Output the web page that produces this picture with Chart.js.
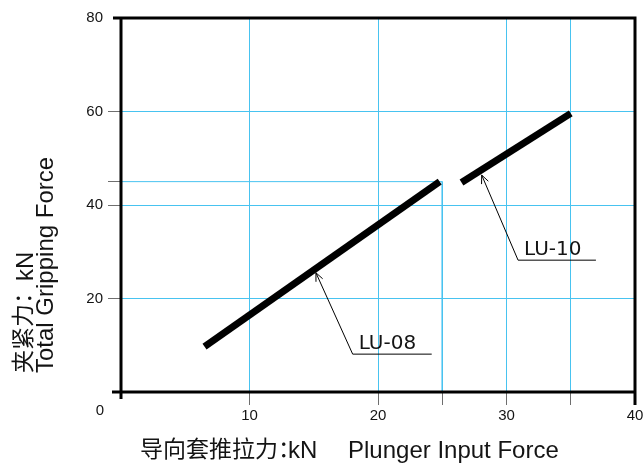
<!DOCTYPE html>
<html>
<head>
<meta charset="utf-8">
<script src="https://cdn.jsdelivr.net/npm/chart.js@4/dist/chart.umd.min.js"></script>
<style>
  html, body { margin: 0; padding: 0; background: #fff; }
  #wrap { width: 643px; height: 463px; }
</style>
</head>
<body>
<div id="wrap"><canvas id="c" width="643" height="463"></canvas></div>
<script>
// Plunger input force (kN) against total gripping force (kN)
const lu08Force = [6.5, 24.8];
const lu08Grip  = [9.7, 45.0];
const lu10Force = [26.5, 35.0];
const lu10Grip  = [44.8, 59.6];

// Guide lines marking the 25 kN / 45 kN reference point
const guideForce = [0, 25, 25];
const guideGrip  = [45, 45, 0];

// Axis ticks and their printed labels
const xTickValues = [0, 10, 20, 25, 30, 35, 40];
const xTickLabels = ['', '10', '20', '', '30', '', '40'];
const yTickValues = [0, 20, 40, 45, 60, 80];
const yTickLabels = ['', '20', '40', '', '60', '80'];

// Leader callouts: series name, pointed spot on the line, elbow, end of underline
const calloutNames = ['LU-08', 'LU-10'];
const calloutTips  = [[15.17, 25.5], [28.07, 46.4]];
const calloutElbows = [[18.03, 8.1], [30.9, 28.2]];
const calloutEnds  = [[24.18, 8.1], [36.96, 28.2]];

const toPoints = (xs, ys) => xs.map((x, i) => ({ x, y: ys[i] }));

const GRID = 'rgb(72,195,240)';
const TICK = 'rgb(110,110,110)';
const INK = '#141414';
const LATIN = '"Liberation Sans", Arial, sans-serif';
const CJK = '"Noto Sans CJK SC", sans-serif';

const frame = {
  id: 'frame',
  afterDatasetsDraw(chart) {
    const { ctx, chartArea: a, scales } = chart;
    const sx = scales.x, sy = scales.y;
    ctx.save();

    // heavy frame, with the axes crossing at the origin
    ctx.strokeStyle = '#000';
    ctx.lineWidth = 3;
    ctx.lineCap = 'butt';
    ctx.beginPath();
    ctx.moveTo(a.left, a.top - 1.5); ctx.lineTo(a.left, a.bottom + 7);
    ctx.moveTo(a.left - 9, a.bottom); ctx.lineTo(a.right + 1.5, a.bottom);
    ctx.moveTo(a.left - 8, a.top); ctx.lineTo(a.right + 1.5, a.top);
    ctx.moveTo(a.right, a.top - 1.5); ctx.lineTo(a.right, a.bottom + 13);
    ctx.stroke();

    // shared origin label
    ctx.fillStyle = INK;
    ctx.font = '15px ' + LATIN;
    ctx.textAlign = 'right';
    ctx.textBaseline = 'middle';
    ctx.fillText('0', a.left - 17, a.bottom + 19);

    // callouts
    ctx.lineWidth = 1;
    ctx.strokeStyle = '#000';
    calloutNames.forEach((name, i) => {
      const tx = sx.getPixelForValue(calloutTips[i][0]);
      const ty = sy.getPixelForValue(calloutTips[i][1]);
      const ex = sx.getPixelForValue(calloutElbows[i][0]);
      const ey = sy.getPixelForValue(calloutElbows[i][1]);
      const fx = sx.getPixelForValue(calloutEnds[i][0]);
      ctx.beginPath();
      ctx.moveTo(tx, ty); ctx.lineTo(ex, ey); ctx.lineTo(fx, ey);
      ctx.stroke();
      const ang = Math.atan2(ey - ty, ex - tx);
      const len = 9, spread = 0.42;
      ctx.beginPath();
      ctx.moveTo(tx + len * Math.cos(ang - spread), ty + len * Math.sin(ang - spread));
      ctx.lineTo(tx, ty);
      ctx.lineTo(tx + len * Math.cos(ang + spread), ty + len * Math.sin(ang + spread));
      ctx.stroke();
      ctx.font = '20px "DejaVu Sans", sans-serif';
      ctx.textAlign = 'left';
      ctx.textBaseline = 'alphabetic';
      ctx.fillStyle = INK;
      ctx.fillText(name, ex + 6, ey - 5);
    });

    // x axis title
    ctx.textAlign = 'left';
    ctx.textBaseline = 'alphabetic';
    ctx.font = '23px ' + CJK;
    ctx.fillText('导向套推拉力：', 140, 457);
    ctx.font = '24px ' + LATIN;
    ctx.fillText('kN', 288, 458);
    ctx.fillText('Plunger Input Force', 348, 458);

    // y axis title, two rotated lines
    ctx.save();
    ctx.translate(31, 373);
    ctx.rotate(-Math.PI / 2);
    ctx.font = '23px ' + CJK;
    ctx.fillText('夹紧力：', 0, 0);
    ctx.restore();
    ctx.save();
    ctx.translate(33, 281);
    ctx.rotate(-Math.PI / 2);
    ctx.font = '24px ' + LATIN;
    ctx.fillText('kN', 0, 0);
    ctx.restore();
    ctx.save();
    ctx.translate(53, 373);
    ctx.rotate(-Math.PI / 2);
    ctx.font = '24px ' + LATIN;
    ctx.fillText('Total Gripping Force', 0, 0);
    ctx.restore();

    ctx.restore();
  }
};

const seriesStyle = {
  borderColor: '#000',
  borderWidth: 7,
  borderCapStyle: 'butt',
  pointRadius: 0,
  tension: 0,
  fill: false
};

new Chart(document.getElementById('c'), {
  type: 'line',
  data: {
    datasets: [
      Object.assign({ label: 'LU-08', data: toPoints(lu08Force, lu08Grip) }, seriesStyle),
      Object.assign({ label: 'LU-10', data: toPoints(lu10Force, lu10Grip) }, seriesStyle),
      { label: 'guide', data: toPoints(guideForce, guideGrip), borderColor: GRID,
        borderWidth: 1, pointRadius: 0, tension: 0, fill: false }
    ]
  },
  options: {
    responsive: false,
    animation: false,
    devicePixelRatio: 1,
    layout: { padding: { top: 18, right: 8, bottom: 0, left: 0 } },
    plugins: { legend: { display: false }, tooltip: { enabled: false } },
    scales: {
      x: {
        type: 'linear', min: 0, max: 40,
        afterBuildTicks: s => { s.ticks = xTickValues.map(v => ({ value: v })); },
        afterFit: s => { s.height = 71; s.paddingLeft = s.paddingRight = 0; },
        ticks: {
          autoSkip: false, maxRotation: 0, padding: 2, color: INK,
          font: { family: LATIN, size: 15 },
          callback: v => xTickLabels[xTickValues.indexOf(v)]
        },
        grid: {
          lineWidth: 1,
          tickLength: 13,
          color: c => [10, 20, 30, 35].includes(c.tick && c.tick.value) ? GRID : 'rgba(0,0,0,0)',
          tickColor: c => [10, 20, 25, 30, 35].includes(c.tick && c.tick.value) ? TICK : 'rgba(0,0,0,0)'
        },
        border: { display: false }
      },
      y: {
        type: 'linear', min: 0, max: 80,
        afterBuildTicks: s => { s.ticks = yTickValues.map(v => ({ value: v })); },
        afterFit: s => { s.width = 121; s.paddingTop = s.paddingBottom = 0; },
        ticks: {
          autoSkip: false, padding: 5, color: INK,
          font: { family: LATIN, size: 15 },
          callback: v => yTickLabels[yTickValues.indexOf(v)]
        },
        grid: {
          lineWidth: 1,
          tickLength: 13,
          color: c => [20, 40, 60].includes(c.tick && c.tick.value) ? GRID : 'rgba(0,0,0,0)',
          tickColor: c => [20, 40, 45, 60].includes(c.tick && c.tick.value) ? TICK : 'rgba(0,0,0,0)'
        },
        border: { display: false }
      }
    }
  },
  plugins: [frame]
});
</script>
</body>
</html>
